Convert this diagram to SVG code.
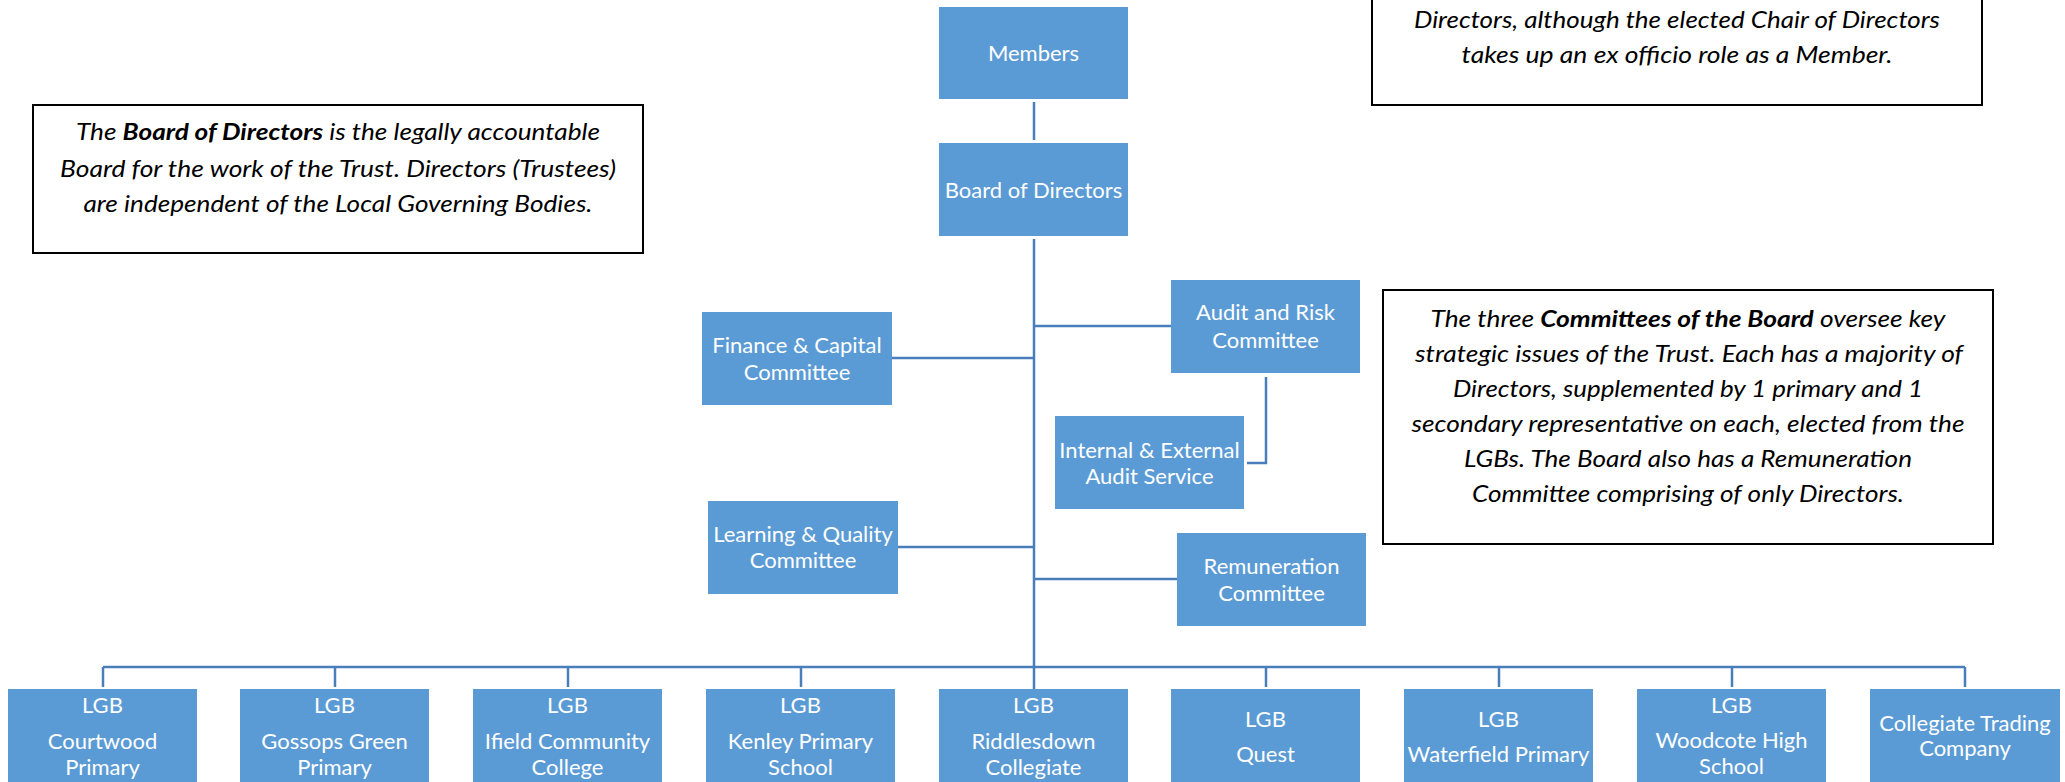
<svg xmlns="http://www.w3.org/2000/svg" width="2065" height="782" viewBox="0 0 2065 782">
<style>
.node rect{fill:#5B9BD5;}
.node text{fill:#fff;font-family:Lato,"Liberation Sans",sans-serif;font-size:22px;text-anchor:middle;}
.note rect{fill:#fff;stroke:#000;stroke-width:2;}
.note text{fill:#000;font-family:Lato,"Liberation Sans",sans-serif;font-size:23px;font-style:italic;text-anchor:middle;}
.note tspan.b{font-weight:bold;}
#connectors path{fill:none;stroke:#4A7EBB;stroke-width:2.5;}
</style>
<rect width="2065" height="782" fill="#fff"/>
<g id="connectors">
<path d="M1034,102 V140"/>
<path d="M1034,239 V689"/>
<path d="M892,358 H1034"/>
<path d="M1034,326 H1171"/>
<path d="M898,547 H1034"/>
<path d="M1034,579 H1177"/>
<path d="M1266,377 V463 H1247"/>
<path d="M103,667 H1965"/>
<path d="M103,667 V687 M335,667 V687 M568,667 V687 M801,667 V687 M1266,667 V687 M1499,667 V687 M1732,667 V687 M1965,667 V687"/>
</g>
<g id="note-board" class="note">
<rect x="33" y="105" width="610" height="148"/>
<text x="338" y="140" textLength="524" lengthAdjust="spacingAndGlyphs">The <tspan class="b">Board of Directors</tspan> is the legally accountable</text>
<text x="338" y="176.5" textLength="556" lengthAdjust="spacingAndGlyphs">Board for the work of the Trust. Directors (Trustees)</text>
<text x="338" y="211.5" textLength="509" lengthAdjust="spacingAndGlyphs">are independent of the Local Governing Bodies.</text>
</g>
<g id="note-members" class="note">
<rect x="1372" y="-40" width="610" height="145"/>
<text x="1677" y="28" textLength="526" lengthAdjust="spacingAndGlyphs">Directors, although the elected Chair of Directors</text>
<text x="1677" y="63" textLength="431" lengthAdjust="spacingAndGlyphs">takes up an ex officio role as a Member.</text>
</g>
<g id="note-committees" class="note">
<rect x="1383" y="290" width="610" height="254"/>
<text x="1688" y="326.5" textLength="515" lengthAdjust="spacingAndGlyphs">The three <tspan class="b">Committees of the Board</tspan> oversee key</text>
<text x="1689" y="361.5" textLength="548" lengthAdjust="spacingAndGlyphs">strategic issues of the Trust. Each has a majority of</text>
<text x="1688" y="397" textLength="470" lengthAdjust="spacingAndGlyphs">Directors, supplemented by 1 primary and 1</text>
<text x="1688" y="431.5" textLength="553" lengthAdjust="spacingAndGlyphs">secondary representative on each, elected from the</text>
<text x="1688" y="466.5" textLength="448" lengthAdjust="spacingAndGlyphs">LGBs. The Board also has a Remuneration</text>
<text x="1688" y="502" textLength="432" lengthAdjust="spacingAndGlyphs">Committee comprising of only Directors.</text>
</g>
<g id="members" class="node"><rect x="939" y="7" width="189" height="92"/><text x="1033.5" y="61">Members</text></g>
<g id="board" class="node"><rect x="939" y="143" width="189" height="93"/><text x="1033.5" y="197.5">Board of Directors</text></g>
<g id="finance" class="node"><rect x="702" y="312" width="190" height="93"/><text x="797" y="352.5">Finance &amp; Capital</text><text x="797" y="379.5">Committee</text></g>
<g id="audit" class="node"><rect x="1171" y="280" width="189" height="93"/><text x="1265.5" y="320">Audit and Risk</text><text x="1265.5" y="347.5">Committee</text></g>
<g id="audit-service" class="node"><rect x="1055" y="416" width="189" height="93"/><text x="1149.5" y="457.5">Internal &amp; External</text><text x="1149.5" y="483.5">Audit Service</text></g>
<g id="learning" class="node"><rect x="708" y="501" width="190" height="93"/><text x="803" y="541.5">Learning &amp; Quality</text><text x="803" y="568">Committee</text></g>
<g id="remuneration" class="node"><rect x="1177" y="533" width="189" height="93"/><text x="1271.5" y="574">Remuneration</text><text x="1271.5" y="600.5">Committee</text></g>
<g id="lgb-courtwood" class="node"><rect x="8" y="689" width="189" height="100"/><text x="102.5" y="712.5">LGB</text><text x="102.5" y="748.5">Courtwood</text><text x="102.5" y="775">Primary</text></g>
<g id="lgb-gossops" class="node"><rect x="240" y="689" width="189" height="100"/><text x="334.5" y="712.5">LGB</text><text x="334.5" y="748.5">Gossops Green</text><text x="334.5" y="775">Primary</text></g>
<g id="lgb-ifield" class="node"><rect x="473" y="689" width="189" height="100"/><text x="567.5" y="712.5">LGB</text><text x="567.5" y="748.5">Ifield Community</text><text x="567.5" y="775">College</text></g>
<g id="lgb-kenley" class="node"><rect x="706" y="689" width="189" height="100"/><text x="800.5" y="712.5">LGB</text><text x="800.5" y="748.5">Kenley Primary</text><text x="800.5" y="775">School</text></g>
<g id="lgb-riddlesdown" class="node"><rect x="939" y="689" width="189" height="100"/><text x="1033.5" y="712.5">LGB</text><text x="1033.5" y="748.5">Riddlesdown</text><text x="1033.5" y="775">Collegiate</text></g>
<g id="lgb-quest" class="node"><rect x="1171" y="689" width="189" height="100"/><text x="1265.5" y="727">LGB</text><text x="1265.5" y="762">Quest</text></g>
<g id="lgb-waterfield" class="node"><rect x="1404" y="689" width="189" height="100"/><text x="1498.5" y="727">LGB</text><text x="1498.5" y="762">Waterfield Primary</text></g>
<g id="lgb-woodcote" class="node"><rect x="1637" y="689" width="189" height="100"/><text x="1731.5" y="712.5">LGB</text><text x="1731.5" y="747.5">Woodcote High</text><text x="1731.5" y="774">School</text></g>
<g id="trading" class="node"><rect x="1870" y="689" width="190" height="100"/><text x="1965" y="731">Collegiate Trading</text><text x="1965" y="756">Company</text></g>
</svg>
